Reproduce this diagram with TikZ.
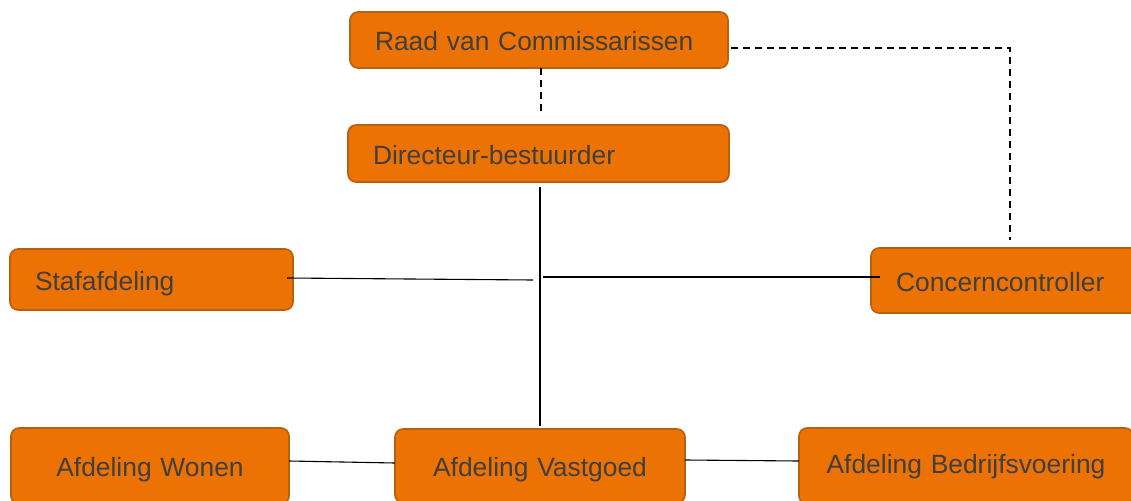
\documentclass[tikz,border=0pt]{standalone}
\usepackage{fontspec}
\setmainfont{Liberation Sans}
\definecolor{boxfill}{HTML}{EC7204}
\definecolor{boxline}{HTML}{B4620F}
\definecolor{txt}{HTML}{3F3F3F}
\begin{document}
\begin{tikzpicture}[x=1pt,y=-1pt,
  box/.style={draw=boxline,fill=boxfill,rounded corners=8pt,line width=1.6pt,
    text=txt,font=\fontsize{26.4}{30}\selectfont,inner ysep=0pt,outer sep=0pt,
    text height=21pt,text depth=0pt},
  lbox/.style={box,align=left,inner xsep=25pt},
  cbox/.style={box,align=center,inner xsep=0pt},
  dashline/.style={line width=1.8pt,dash pattern=on 7pt off 5pt},
  solidline/.style={line width=1.1pt}]
\clip (0,0) rectangle (1131,500);
\fill[white] (0,0) rectangle (1131,500);
\node[lbox,text width=328pt,minimum height=56pt] (raad) at (539,40) {Raad van Commissarissen};
\node[lbox,text width=331pt,minimum height=57pt] (dir) at (538.5,153.5) {Directeur-bestuurder};
\node[lbox,text width=233pt,minimum height=61pt] (staf) at (151.5,279.5) {Stafafdeling};
\node[lbox,text width=224pt,minimum height=65pt] (cc) at (1008,280.5) {Concerncontroller};
\node[cbox,text width=278pt,minimum height=76pt] (won) at (150,466) {Afdeling Wonen};
\node[cbox,text width=290pt,minimum height=74pt] (vast) at (540,466) {Afdeling Vastgoed};
\node[cbox,text width=334pt,minimum height=76pt] (bed) at (966,466) {\raisebox{3pt}{Afdeling Bedrijfsvoering}};
\coordinate (d1) at (541,115);
\coordinate (c1) at (1010,48);
\coordinate (c2) at (1010,240);
\coordinate (v1) at (540,187);
\coordinate (v2) at (540,426);
\coordinate (hl) at (533,280);
\coordinate (hr) at (543,277);
\draw[dashline] (raad.south -| d1) -- (d1);
\draw[dashline] ([xshift=3pt]raad.east |- c1) -- (c1) -- (c2);
\draw[solidline] (v1) -- (v2);
\draw[solidline] ([xshift=-6pt]staf.east |- 0,278) -- (hl);
\draw[solidline] (hr) -- ([xshift=9pt]cc.west |- 0,277);
\draw[solidline] (won.east |- 0,461) -- (vast.west |- 0,463);
\draw[solidline] (vast.east |- 0,460) -- (bed.west |- 0,461);
\end{tikzpicture}
\end{document}
